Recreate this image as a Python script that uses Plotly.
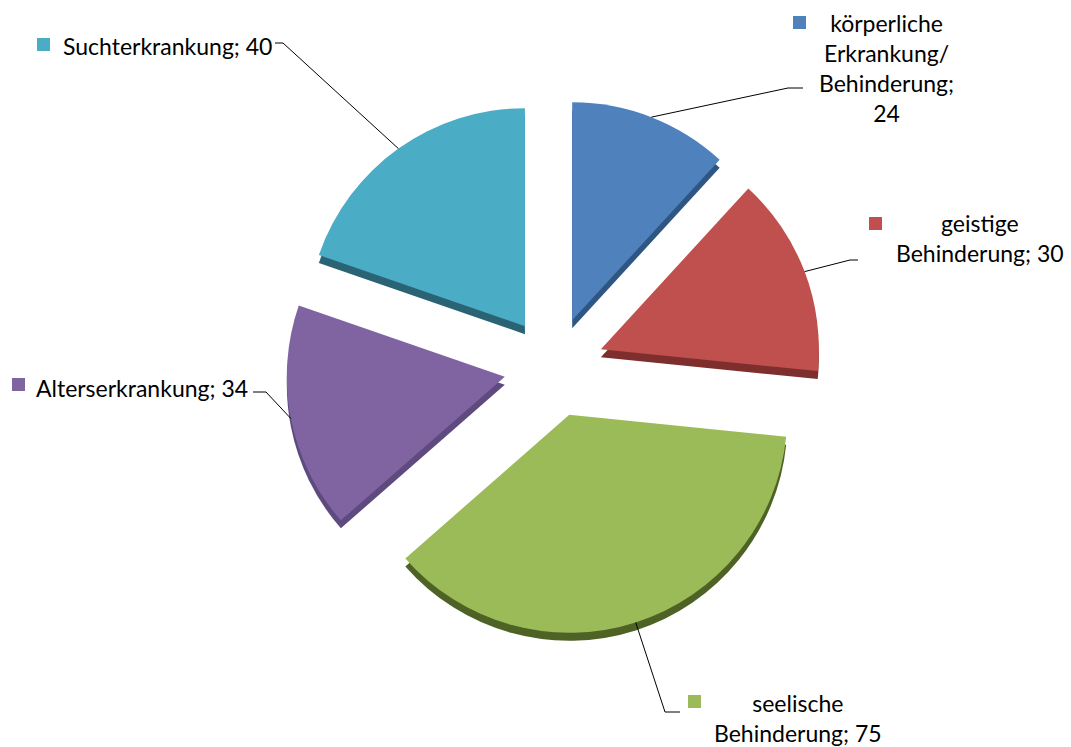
import math
import plotly.graph_objects as go

# ---- data ----
categories = ["körperliche Erkrankung/ Behinderung", "geistige Behinderung",
              "seelische Behinderung", "Alterserkrankung", "Suchterkrankung"]
label_lines = ["körperliche<br>Erkrankung/<br>Behinderung;", "geistige<br>Behinderung;",
               "seelische<br>Behinderung;", "Alterserkrankung;", "Suchterkrankung;"]
value_sep = ["<br>", " ", " ", " ", " "]
values = [24, 30, 75, 34, 40]

# ---- styles ----
colors = ["#4F81BD", "#C0504D", "#9BBB59", "#8064A2", "#4BACC6"]
dark = ["#2F5582", "#7E2F2D", "#4F6226", "#5E4A7E", "#2A6373"]
W, H = 1071, 747
CX, CY = 554, 367          # pie centre (px)
R = 218                    # pie radius (px)
PULL = 0.23
DEPTH = 8                  # 3D thickness (px)
FONT = "Lato"
FSIZE = 23

half = R * (1 + PULL)
def px(x):
    return x / W
def py(y):
    return 1 - y / H

dom_x = [px(CX - half), px(CX + half)]
dom_y = [py(CY + half), py(CY - half)]
dom_y_depth = [py(CY + half + DEPTH), py(CY - half + DEPTH)]

fig = go.Figure()
# side/thickness layer
fig.add_trace(go.Pie(
    labels=categories, values=values, sort=False, direction="clockwise", rotation=0,
    pull=PULL, marker=dict(colors=dark, line=dict(width=0)), textinfo="none",
    hoverinfo="skip", showlegend=False, domain=dict(x=dom_x, y=dom_y_depth)))
# top layer
fig.add_trace(go.Pie(
    labels=categories, values=values, sort=False, direction="clockwise", rotation=0,
    pull=PULL, marker=dict(colors=colors, line=dict(width=0)), textinfo="none",
    showlegend=False, domain=dict(x=dom_x, y=dom_y)))

# label layout (px)
label_pos = [
    dict(x=886, y=7, xanchor="center", yanchor="top", align="center"),
    dict(x=980, y=207, xanchor="center", yanchor="top", align="center"),
    dict(x=798, y=687, xanchor="center", yanchor="top", align="center"),
    dict(x=34, y=388, xanchor="left", yanchor="middle", align="left"),
    dict(x=61, y=46, xanchor="left", yanchor="middle", align="left"),
]
squares = [(793, 16), (869, 217), (688, 695), (12, 378), (37, 38)]
SQ = 13
elbows = [(788, 88), (850, 260), (665, 712), (266, 392), (283, 43)]
ends = [(803, 88), (858, 260), (680, 712), (253, 392), (275, 43)]

total = sum(values)
cum = 0
shapes = []
annotations = []
for i, v in enumerate(values):
    mid = (cum + v / 2) / total * 2 * math.pi
    cum += v
    ox = CX + PULL * R * math.sin(mid)
    oy = CY - PULL * R * math.cos(mid)
    ax = ox + R * math.sin(mid)
    ay = oy - R * math.cos(mid)
    ex, ey = elbows[i]
    tx, ty = ends[i]
    shapes.append(dict(type="path", xref="paper", yref="paper",
                       path=f"M {px(ax)} {py(ay)} L {px(ex)} {py(ey)} L {px(tx)} {py(ty)}",
                       line=dict(color="black", width=1)))
    sx, sy = squares[i]
    shapes.append(dict(type="rect", xref="paper", yref="paper",
                       x0=px(sx), x1=px(sx + SQ), y0=py(sy + SQ), y1=py(sy),
                       fillcolor=colors[i], line=dict(width=0)))
    lp = label_pos[i]
    annotations.append(dict(
        xref="paper", yref="paper", x=px(lp["x"]), y=py(lp["y"]),
        xanchor=lp["xanchor"], yanchor=lp["yanchor"], align=lp["align"],
        text=f"{label_lines[i]}{value_sep[i]}{v}", showarrow=False,
        font=dict(family=FONT, size=FSIZE, color="black")))

fig.update_layout(
    width=W, height=H, margin=dict(l=0, r=0, t=0, b=0),
    paper_bgcolor="white", plot_bgcolor="white",
    shapes=shapes, annotations=annotations, showlegend=False)

fig.write_html("out.html", config={"displayModeBar": False},
               post_script="document.body.style.margin='0';document.body.style.overflow='hidden';")
